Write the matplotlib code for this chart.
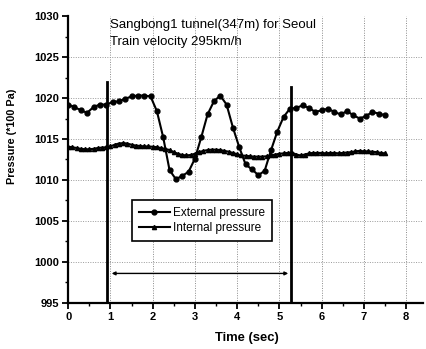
import matplotlib
matplotlib.use("Agg")
import matplotlib.pyplot as plt
import numpy as np

plt.rcParams['font.family'] = ['Liberation Sans', 'DejaVu Sans']

# External pressure (t step 0.15 s)
t_ext = [0.0, 0.15, 0.3, 0.45, 0.6, 0.75, 0.9, 1.05, 1.2, 1.35, 1.5, 1.65, 1.8, 1.95,
         2.1, 2.25, 2.4, 2.55, 2.7, 2.85, 3.0, 3.15, 3.3, 3.45, 3.6, 3.75, 3.9, 4.05,
         4.2, 4.35, 4.5, 4.65, 4.8, 4.95, 5.1, 5.25, 5.4, 5.55, 5.7, 5.85, 6.0, 6.15,
         6.3, 6.45, 6.6, 6.75, 6.9, 7.05, 7.2, 7.35, 7.5]
p_ext = [1019.2, 1018.9, 1018.5, 1018.2, 1018.9, 1019.2, 1019.2, 1019.5, 1019.6, 1019.9,
         1020.2, 1020.3, 1020.3, 1020.2, 1018.4, 1015.2, 1011.2, 1010.1, 1010.5, 1011.0,
         1012.6, 1015.2, 1018.0, 1019.6, 1020.3, 1019.2, 1016.4, 1014.0, 1011.9, 1011.3,
         1010.6, 1011.1, 1013.6, 1015.9, 1017.7, 1018.7, 1018.8, 1019.1, 1018.8, 1018.3,
         1018.5, 1018.7, 1018.3, 1018.0, 1018.4, 1017.9, 1017.5, 1017.8, 1018.3, 1018.1,
         1017.9]

# Internal pressure (t step 0.1 s)
t_int = [round(0.1 * i, 1) for i in range(76)]
p_int = [1014.05, 1014.0, 1013.9, 1013.8, 1013.75, 1013.75, 1013.8, 1013.9, 1013.95, 1014.0,
         1014.1, 1014.3, 1014.45, 1014.5, 1014.45, 1014.3, 1014.2, 1014.15, 1014.1, 1014.1,
         1014.05, 1014.0, 1013.9, 1013.8, 1013.65, 1013.4, 1013.2, 1013.05, 1013.0, 1013.05,
         1013.2, 1013.4, 1013.55, 1013.65, 1013.7, 1013.7, 1013.65, 1013.55, 1013.45, 1013.3,
         1013.15, 1013.0, 1012.95, 1012.9, 1012.85, 1012.85, 1012.85, 1012.9, 1013.0, 1013.1,
         1013.2, 1013.25, 1013.3, 1013.35, 1013.1, 1013.0, 1013.1, 1013.25, 1013.3, 1013.3,
         1013.3, 1013.25, 1013.3, 1013.3, 1013.25, 1013.3, 1013.35, 1013.4, 1013.5, 1013.55,
         1013.5, 1013.5, 1013.45, 1013.4, 1013.3, 1013.25]

# Markers for tunnel entry/exit
v_lines_t = [0.93, 5.28]
v_lines_top = [1021.95, 1021.4]
arrow_t = [1.03, 5.21]
arrow_p = 998.6

x_ticks = [0, 1, 2, 3, 4, 5, 6, 7, 8]
y_ticks = [995, 1000, 1005, 1010, 1015, 1020, 1025, 1030]

fig = plt.figure(figsize=(4.26, 3.49), dpi=100)
ax = fig.add_axes([0.16, 0.132, 0.833, 0.822])

ax.set_xlim(0, 8.4)
ax.set_ylim(995, 1030)

for x in range(1, 9):
    ax.axvline(x, color='#8a8a8a', lw=0.7, ls=(0, (1, 1.5)), zorder=0)
for y in range(1000, 1030, 5):
    ax.axhline(y, color='#9a9a9a', lw=0.7, ls=(0, (1, 1.5)), zorder=0)

ax.plot(t_ext, p_ext, '-o', color='black', lw=1.5, ms=3.5, label='External pressure')
ax.plot(t_int, p_int, '-^', color='black', lw=1.5, ms=3, label='Internal pressure')

for tv, top in zip(v_lines_t, v_lines_top):
    ax.plot([tv, tv], [995, top], color='black', lw=2.0)

ax.annotate('', xy=(arrow_t[0], arrow_p), xytext=(arrow_t[1], arrow_p),
            arrowprops=dict(arrowstyle='<|-|>', color='black', lw=1.0,
                            mutation_scale=5, shrinkA=0, shrinkB=0))

ax.text(0.99, 1028.9, 'Sangbong1 tunnel(347m) for Seoul', fontsize=9.5, va='center')
ax.text(0.99, 1026.8, 'Train velocity 295km/h', fontsize=9.5, va='center')

ax.set_xticks(x_ticks)
ax.set_yticks(y_ticks)
ax.set_xticks(np.arange(0.5, 8.5, 1.0), minor=True)
ax.set_yticks(np.arange(997.5, 1030, 5), minor=True)
ax.tick_params(direction='out', which='major', length=4, width=1.3, labelsize=8, pad=2.5)
ax.tick_params(direction='out', which='minor', length=2.5, width=1.0)
for lbl in ax.get_xticklabels() + ax.get_yticklabels():
    lbl.set_fontweight('bold')

ax.spines['top'].set_visible(False)
ax.spines['right'].set_visible(False)
ax.spines['left'].set_linewidth(1.6)
ax.spines['bottom'].set_linewidth(1.6)

ax.set_xlabel('Time (sec)', fontsize=9.4, fontweight='bold')
ax.xaxis.set_label_coords(0.505, -0.103)
ax.set_ylabel('Pressure (*100 Pa)', fontsize=7.8, fontweight='bold')
ax.yaxis.set_label_coords(-0.145, 0.58)

leg = ax.legend(loc='upper left', bbox_to_anchor=(0.18, 0.359), borderaxespad=0,
                fontsize=8.5, frameon=True, fancybox=False, edgecolor='black',
                framealpha=1, handlelength=2.6, handletextpad=0.3,
                borderpad=0.6, labelspacing=0.25)
leg.get_frame().set_linewidth(1.2)

fig.savefig('out.png', dpi=100)
